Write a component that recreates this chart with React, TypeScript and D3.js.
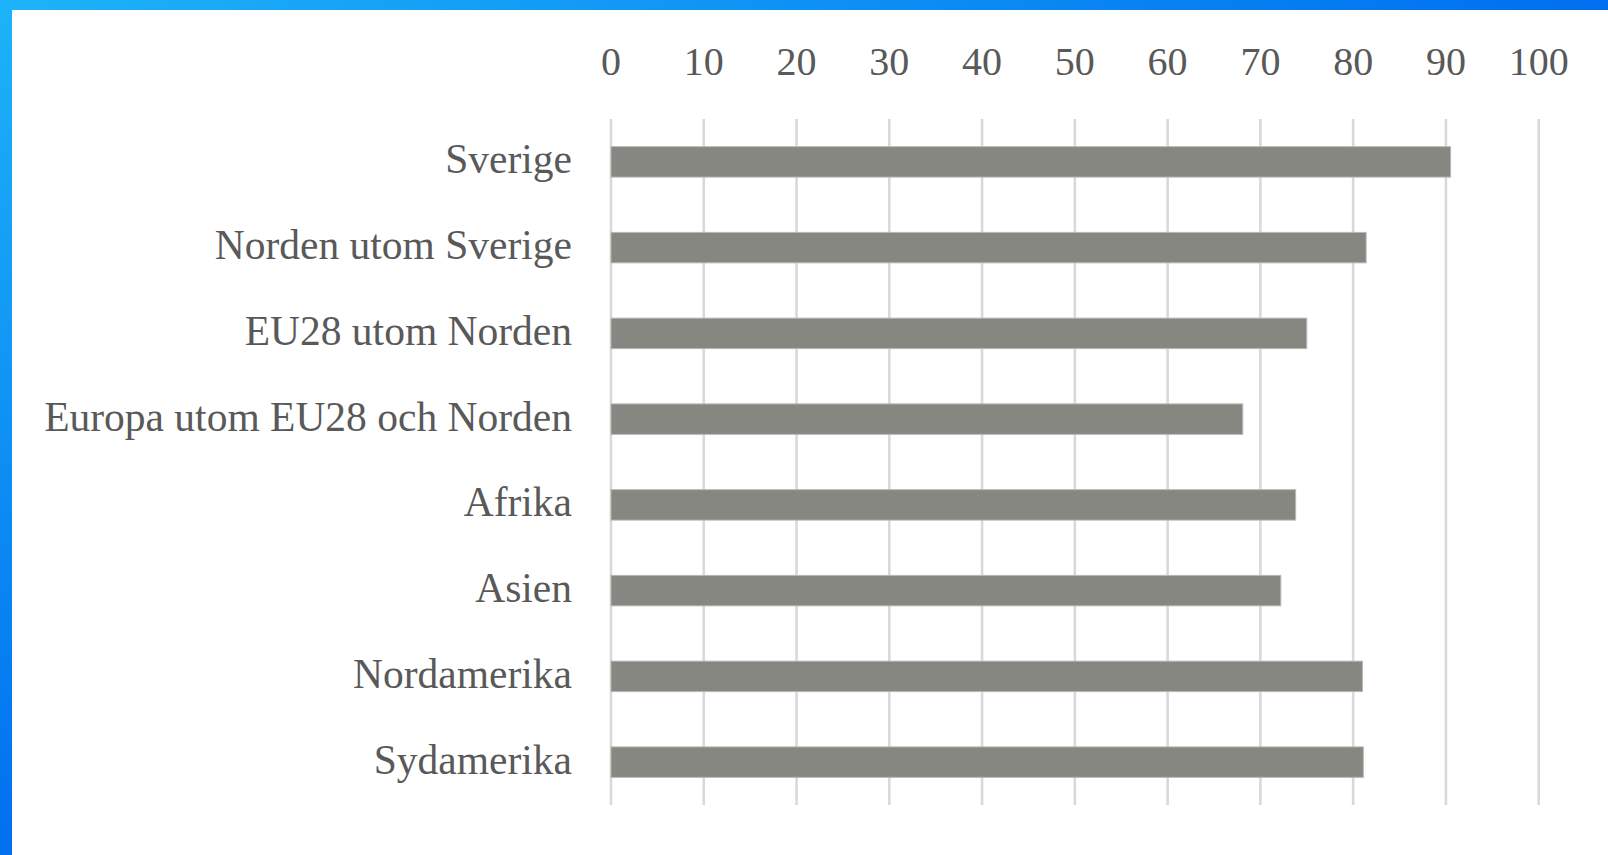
import React from "react";
import * as d3 from "d3";

const categories = [
  "Sverige",
  "Norden utom Sverige",
  "EU28 utom Norden",
  "Europa utom EU28 och Norden",
  "Afrika",
  "Asien",
  "Nordamerika",
  "Sydamerika",
];
const values = [90.5, 81.4, 75.0, 68.1, 73.8, 72.2, 81.0, 81.1];
const tickValues = [0, 10, 20, 30, 40, 50, 60, 70, 80, 90, 100];

const W = 1608;
const H = 855;
const FONT = "'Liberation Serif', 'Times New Roman', serif";

export default function App() {
  const x = d3.scaleLinear().domain([0, 100]).range([611, 1538.7]);
  const y = d3.scaleBand<string>().domain(categories).range([119, 805]).padding(0);
  const barH = y.bandwidth() * 0.355;

  return (
    <svg
      width={W}
      height={H}
      viewBox={`0 0 ${W} ${H}`}
      style={{ position: "absolute", left: 0, top: 0, display: "block" }}
    >
      <defs>
        <linearGradient id="frameTop" x1="0" y1="0" x2="1" y2="0">
          <stop offset="0" stopColor="#1db3f9" />
          <stop offset="1" stopColor="#006ff0" />
        </linearGradient>
        <linearGradient id="frameLeft" x1="0" y1="0" x2="0" y2="1">
          <stop offset="0" stopColor="#1db3f9" />
          <stop offset="1" stopColor="#006ff0" />
        </linearGradient>
      </defs>
      <rect x={0} y={0} width={W} height={H} fill="#ffffff" />
      <rect x={0} y={0} width={W} height={10} fill="url(#frameTop)" />
      <rect x={0} y={0} width={12} height={H} fill="url(#frameLeft)" />

      {tickValues.map((t) => (
        <g key={t}>
          <line x1={x(t)} x2={x(t)} y1={119} y2={805} stroke="#d9d9d9" strokeWidth={2.6} />
          <text
            x={x(t)}
            y={75}
            textAnchor="middle"
            fontFamily={FONT}
            fontSize={40}
            fill="#595959"
          >
            {t}
          </text>
        </g>
      ))}

      {categories.map((c, i) => {
        const cy = (y(c) as number) + y.bandwidth() / 2;
        return (
          <g key={c}>
            <rect
              x={x(0)}
              y={cy - barH / 2}
              width={x(values[i]) - x(0)}
              height={barH}
              fill="#878781"
              stroke="#b8b8b3"
              strokeWidth={1}
            />
            <text
              x={572}
              y={cy + 11.5}
              textAnchor="end"
              fontFamily={FONT}
              fontSize={41.5}
              fill="#595959"
            >
              {c}
            </text>
          </g>
        );
      })}
    </svg>
  );
}
